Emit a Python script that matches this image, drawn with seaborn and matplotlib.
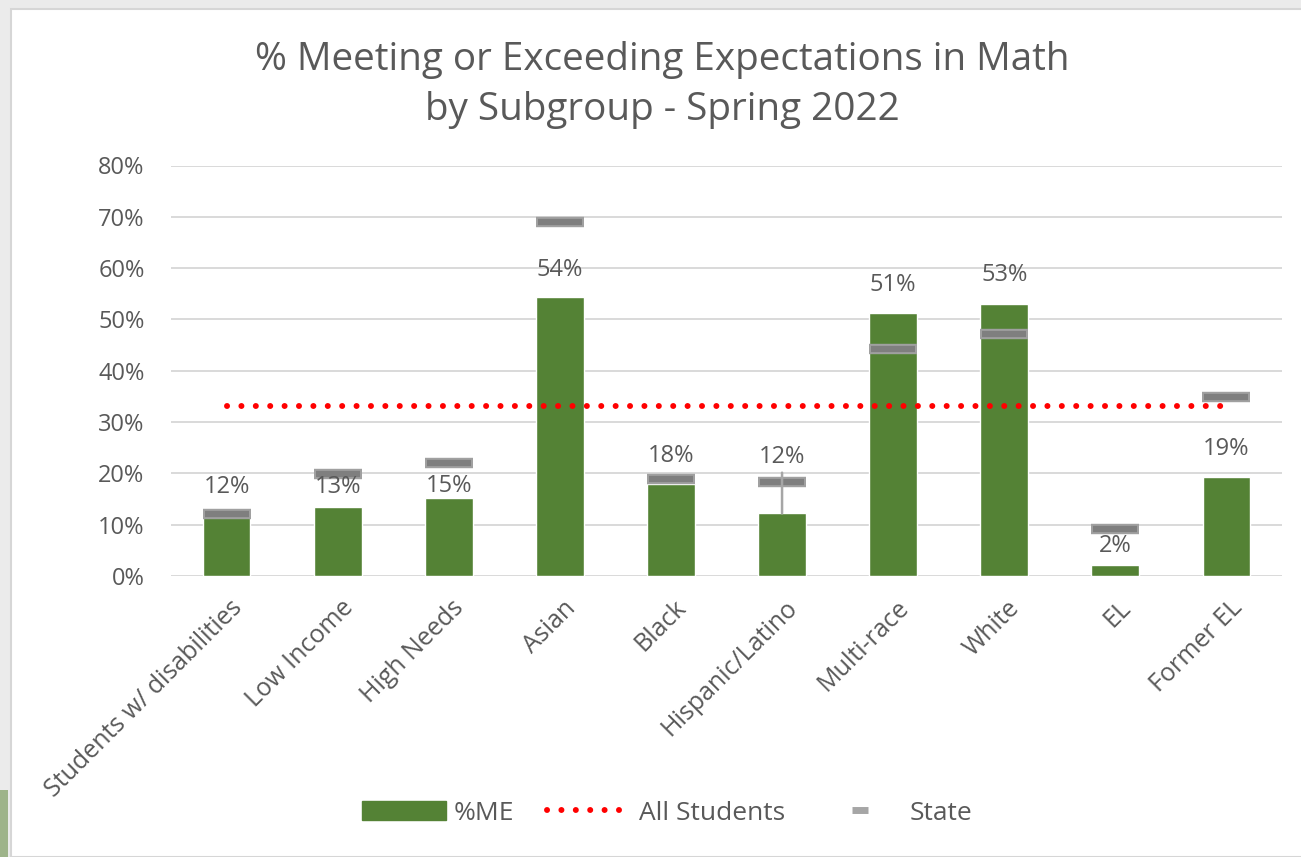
import numpy as np
import pandas as pd
import seaborn as sns
import matplotlib.pyplot as plt
from matplotlib.patches import Patch, Rectangle
from matplotlib.lines import Line2D
from matplotlib.ticker import PercentFormatter
from matplotlib.transforms import ScaledTranslation

# Chart data
subgroups = ['Students w/ disabilities', 'Low Income', 'High Needs', 'Asian', 'Black',
             'Hispanic/Latino', 'Multi-race', 'White', 'EL', 'Former EL']
pct_me = [0.12, 0.134, 0.152, 0.543, 0.18, 0.122, 0.512, 0.531, 0.021, 0.193]
state = [0.121, 0.198, 0.22, 0.69, 0.19, 0.183, 0.442, 0.471, 0.091, 0.348]
all_students = 0.331
yticks = [0, 0.1, 0.2, 0.3, 0.4, 0.5, 0.6, 0.7, 0.8]

# where each value label sits above its bar (pixels), like the hand-placed Excel labels
label_offset = [27, 20, 12, 27, 28, 56, 28, 29, 19, 28]

GREEN = '#548235'
GREY_TXT = '#595959'

sns.set_theme(style='white')
plt.rcParams['font.family'] = ['Open Sans', 'DejaVu Sans']

df = pd.DataFrame({'Subgroup': subgroups, 'ME': pct_me, 'State': state})

fig = plt.figure(figsize=(13.01, 8.57), dpi=100, facecolor='#ebebeb')
# white chart panel inside the light grey slide frame
fig.patches.append(Rectangle((11 / 1301, 0), 1, 1 - 9 / 857, transform=fig.transFigure,
                             facecolor='white', edgecolor='#d6d6d6', lw=1.5, zorder=-2))
fig.patches.append(Rectangle((0, 0), 8 / 1301, 67 / 857, transform=fig.transFigure,
                             facecolor='#9eb48a', edgecolor='none', zorder=-1))

ax = fig.add_axes([171 / 1301, 1 - 576 / 857, 1111 / 1301, 410.5 / 857])
ax.set_facecolor('none')

sns.barplot(data=df, x='Subgroup', y='ME', color=GREEN, width=0.43, saturation=1,
            ax=ax, zorder=3)

# All Students reference line (dotted)
xs = np.arange(len(subgroups))
ax.plot([xs[0], xs[-1]], [all_students, all_students], color='#ff0000', lw=4.3,
        linestyle=(0, (0.01, 2.4)), dash_capstyle='round', zorder=4)

# State markers
ax.plot(xs, df['State'], linestyle='none', marker='_', ms=35, mew=7.5,
        color='#a0a0a0', zorder=5)
ax.plot(xs, df['State'], linestyle='none', marker='_', ms=32, mew=4.5,
        color='#7f7f7f', zorder=6)

# value labels
for i, v in enumerate(pct_me):
    kw = {}
    if subgroups[i] == 'Hispanic/Latino':
        kw['arrowprops'] = dict(arrowstyle='-', color='#a6a6a6', lw=1.8,
                                shrinkA=0, shrinkB=0)
    ax.annotate(f'{v * 100:.0f}%', xy=(i, v), xytext=(0, label_offset[i]),
                textcoords='offset pixels', ha='center', va='center',
                fontsize=17, color=GREY_TXT, zorder=7, **kw)

ax.set_ylim(0, 0.8)
ax.set_xlim(-0.5, len(subgroups) - 0.5)
ax.set_yticks(yticks)
ax.yaxis.set_major_formatter(PercentFormatter(1.0, decimals=0))
ax.grid(axis='y', color='#d9d9d9', lw=1.4, zorder=0)
ax.set_axisbelow(True)
sns.despine(ax=ax, left=True, bottom=True)
ax.set_xlabel('')
ax.set_ylabel('')
ax.tick_params(axis='y', length=0, pad=19, labelsize=17, labelcolor=GREY_TXT)
ax.tick_params(axis='x', length=0, pad=14, labelsize=18, labelcolor=GREY_TXT)
# rotated labels, nudged a touch right of their ticks as in the original
shift = ScaledTranslation(3 / 100, 0, fig.dpi_scale_trans)
for lab in ax.get_xticklabels():
    lab.set_rotation(45)
    lab.set_ha('right')
    lab.set_rotation_mode('anchor')
    lab.set_transform(lab.get_transform() + shift)

fig.text(662 / 1301, 1 - 85 / 857,
         '% Meeting or Exceeding Expectations in Math\nby Subgroup - Spring 2022',
         ha='center', va='center', fontsize=27.8, color=GREY_TXT, linespacing=1.4)

handles = [Patch(facecolor=GREEN, edgecolor=GREEN),
           Line2D([], [], color='#ff0000', lw=4.3, linestyle=(0, (0.01, 2.4)),
                  dash_capstyle='round'),
           Line2D([], [], color='#a6a6a6', lw=0, marker='_', ms=11, mew=5)]
fig.legend(handles, ['%ME', 'All Students', 'State'], loc='center',
           bbox_to_anchor=(667 / 1301, 1 - 813 / 857), ncol=3, frameon=False,
           fontsize=19, labelcolor=GREY_TXT, handlelength=3.2, handleheight=0.72,
           columnspacing=1.25, handletextpad=0.28)

fig.savefig('out.png', dpi=100, facecolor=fig.get_facecolor())
